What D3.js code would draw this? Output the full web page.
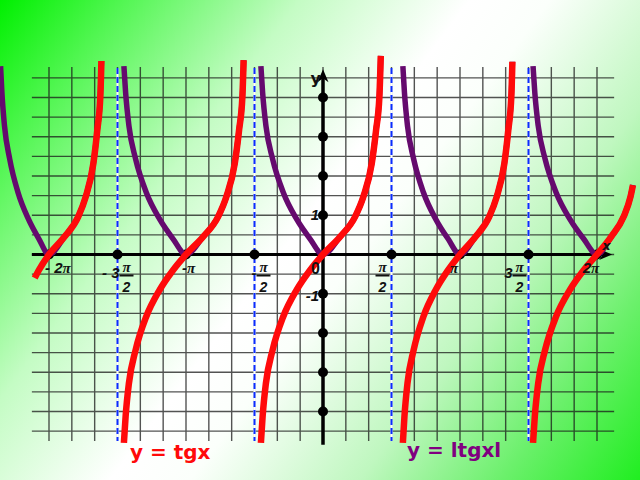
<!DOCTYPE html>
<html>
<head>
<meta charset="utf-8">
<script src="https://cdn.jsdelivr.net/npm/d3@7"></script>
<style>
  html, body { margin: 0; padding: 0; background: #fff; }
  svg { display: block; }
</style>
</head>
<body>
<svg id="chart" width="640" height="480"></svg>
<script>
// ---------- data ----------
const PI = Math.PI;
// x tick positions in multiples of π and their labels
const xTicksPi = [-2, -1.5, -1, -0.5, 0, 0.5, 1, 1.5, 2];
const xTickLabels = ["- 2π", "- 3π/2", "-π", "-π/2", "0", "π/2", "π", "3π/2", "2π"];
// y axis dots and labels
const yDots = [-4, -3, -2, -1, 1, 2, 3, 4];
const yLabelValues = [1, -1];
const yLabelTexts = ["1", "-1"];
// vertical asymptotes (multiples of π)
const asymptotesPi = [-1.5, -0.5, 0.5, 1.5];
// one drawn branch of y = tg x, offsets (radians) from the branch centre and values
const shapeX = [-1.424, -1.385, -1.309, -1.155, -0.911, -0.604, -0.298, 0, 0.39, 0.735, 0.925, 1.118, 1.217, 1.293, 1.325];
const shapeY = [-4.80, -4.13, -3.28, -2.43, -1.58, -0.90, -0.40, 0, 0.45, 0.96, 1.47, 2.32, 3.17, 4.02, 5.06];
// branches visible in the picture
const branchCentresPi = [-2, -1, 0, 1, 2];
const branchSpreadLeft  = [0.78, 1.0, 1.0, 0.92, 1.03];
const branchSpreadRight = [0.91, 1.0, 1.0, 0.91, 0.83];
const redLow  = [-0.6, -4.8, -4.8, -4.8, -4.8];
const redHigh = [4.93, 4.95, 5.06, 4.91, 1.77];
// grid
const gridStepX = PI / 6;
const gridStepY = 0.5;
const legendTexts = ["y = tgx", "y = ltgxl"];

// ---------- scales ----------
const svg = d3.select("#chart");
const x = d3.scaleLinear().domain([-2 * PI, 2 * PI]).range([49, 597]);
const y = d3.scaleLinear().domain([-4, 4]).range([411.5, 97.5]);

// ---------- background ----------
const defs = svg.append("defs");
const grad = defs.append("linearGradient").attr("id", "bg")
  .attr("gradientUnits", "userSpaceOnUse")
  .attr("x1", 0).attr("y1", 0).attr("x2", 640).attr("y2", 480);
[[0, "#00f000"], [0.12, "#50f650"], [0.3, "#c4fcc4"], [0.47, "#ffffff"], [0.55, "#fbfffb"],
 [0.72, "#bff7bf"], [0.86, "#6cf06c"], [1, "#20ee20"]]
  .forEach(([o, c]) => grad.append("stop").attr("offset", o).attr("stop-color", c));
svg.append("rect").attr("width", 640).attr("height", 480).attr("fill", "url(#bg)");

// ---------- grid ----------
const gx0 = -2 * PI - PI / 8, gx1 = 2 * PI + PI / 8;
const gy0 = -4.75, gy1 = 4.78;
const grid = svg.append("g").attr("stroke", "#1a1a1a").attr("stroke-width", 1.4).attr("opacity", 0.75);
const vLines = d3.range(-12, 13).map(k => k * gridStepX);
grid.selectAll(".v").data(vLines).join("line")
  .attr("x1", d => x(d)).attr("x2", d => x(d))
  .attr("y1", y(gy1)).attr("y2", y(gy0));
const hLines = d3.range(-9, 10).map(k => k * gridStepY);
grid.selectAll(".h").data(hLines).join("line")
  .attr("x1", x(gx0)).attr("x2", x(gx1))
  .attr("y1", d => y(d)).attr("y2", d => y(d));

// ---------- asymptotes ----------
const asy = svg.append("g");
asy.selectAll(".aw").data(asymptotesPi).join("line")
  .attr("x1", d => x(d * PI)).attr("x2", d => x(d * PI))
  .attr("y1", y(4.75)).attr("y2", y(-4.75))
  .attr("stroke", "#ffffff").attr("stroke-width", 2.2);
asy.selectAll(".ab").data(asymptotesPi).join("line")
  .attr("x1", d => x(d * PI)).attr("x2", d => x(d * PI))
  .attr("y1", y(4.75)).attr("y2", y(-4.75))
  .attr("stroke", "#0a2cff").attr("stroke-width", 2).attr("stroke-dasharray", "6,3");

// ---------- axes ----------
const axes = svg.append("g");
const xEnd = x(gx1) - 2;
axes.append("line").attr("x1", x(gx0)).attr("x2", xEnd - 6)
  .attr("y1", y(0)).attr("y2", y(0)).attr("stroke", "#000").attr("stroke-width", 3);
axes.append("path")
  .attr("d", `M${xEnd},${y(0)} L${xEnd - 13},${y(0) - 5.5} L${xEnd - 9},${y(0)} L${xEnd - 13},${y(0) + 5.5} Z`)
  .attr("fill", "#000");
const yTop = y(4.72), yBot = y(-4.85);
axes.append("line").attr("x1", x(0)).attr("x2", x(0))
  .attr("y1", yTop + 6).attr("y2", yBot).attr("stroke", "#000").attr("stroke-width", 3.5);
axes.append("path")
  .attr("d", `M${x(0)},${yTop} L${x(0) - 5.5},${yTop + 13} L${x(0)},${yTop + 9} L${x(0) + 5.5},${yTop + 13} Z`)
  .attr("fill", "#000");

// dots
axes.selectAll(".xd").data(xTicksPi.filter(d => d !== 0)).join("circle")
  .attr("cx", d => x(d * PI)).attr("cy", y(0)).attr("r", 5).attr("fill", "#000");
axes.selectAll(".yd").data(yDots).join("circle")
  .attr("cx", x(0)).attr("cy", d => y(d)).attr("r", 5).attr("fill", "#000");

// ---------- curves ----------
function branchPoints(i) {
  const c = branchCentresPi[i] * PI;
  return shapeX.map((dx, j) => ({
    x: c + dx * (dx < 0 ? branchSpreadLeft[i] : branchSpreadRight[i]),
    y: shapeY[j]
  }));
}
function cut(pts, lo, hi) {
  const out = [];
  const inside = p => p.y >= lo && p.y <= hi;
  for (let j = 0; j < pts.length; j++) {
    const p = pts[j];
    if (j > 0) {
      const q = pts[j - 1];
      for (const b of [lo, hi]) {
        if ((q.y - b) * (p.y - b) < 0) {
          const t = (b - q.y) / (p.y - q.y);
          out.push({ x: q.x + t * (p.x - q.x), y: b });
        }
      }
    }
    if (inside(p)) out.push(p);
  }
  return out;
}
const line = d3.line().x(d => x(d.x)).y(d => y(d.y)).curve(d3.curveMonotoneX);

const purple = svg.append("g");
branchCentresPi.forEach((c, i) => {
  const pts = cut(branchPoints(i), -5, redHigh[i]).map(p => ({ x: p.x, y: Math.abs(p.y) }));
  purple.append("path").attr("d", line(pts))
    .attr("fill", "none").attr("stroke", "#650a6e").attr("stroke-width", 5.5);
});
const red = svg.append("g");
branchCentresPi.forEach((c, i) => {
  const pts = cut(branchPoints(i), redLow[i], redHigh[i]);
  red.append("path").attr("d", line(pts))
    .attr("fill", "none").attr("stroke", "#ff0a0a").attr("stroke-width", 6.5);
});

// ---------- labels ----------
const lab = svg.append("g").attr("fill", "#111")
  .attr("font-family", "Liberation Sans, Arial, sans-serif")
  .attr("font-weight", "bold").attr("font-style", "italic").attr("font-size", 15);
const piFont = "Liberation Serif, DejaVu Serif, serif";
xTickLabels.forEach((s, i) => {
  const v = xTicksPi[i];
  const tx = x(v * PI);
  if (s === "0") {
    lab.append("text").attr("x", tx - 3).attr("y", 274).attr("text-anchor", "end")
      .attr("font-style", "normal").attr("font-size", 16).text("0");
    return;
  }
  const m = s.match(/^(-?)\s*(\d*)π(\/2)?$/);
  const sign = m[1], coef = m[2], frac = !!m[3];
  if (frac) {
    const fx = tx + (v < 0 ? 9 : -9);
    lab.append("text").attr("x", fx).attr("y", 272).attr("text-anchor", "middle")
      .attr("font-family", piFont).attr("font-size", 15).text("π");
    lab.append("line").attr("x1", fx - 7).attr("x2", fx + 7).attr("y1", 275.5).attr("y2", 275.5)
      .attr("stroke", "#111").attr("stroke-width", 2);
    lab.append("text").attr("x", fx).attr("y", 292).attr("text-anchor", "middle")
      .attr("font-size", 14).text("2");
    const pre = (sign ? "- " : "") + coef;
    if (pre.trim()) {
      lab.append("text").attr("x", fx - 7).attr("y", 278).attr("text-anchor", "end")
        .attr("font-size", 15).text(pre.trim() === "-" ? "-" : pre);
    }
  } else {
    const t = lab.append("text").attr("y", 273);
    if (v < 0) t.attr("x", tx - 4).attr("text-anchor", "start");
    else t.attr("x", tx - 6).attr("text-anchor", "middle");
    t.append("tspan").text((sign ? (coef ? "- " : "-") : "") + coef);
    t.append("tspan").attr("font-family", piFont).text("π");
  }
});
yLabelValues.forEach((v, i) => {
  lab.append("text").attr("x", x(0) - 4).attr("y", y(v) + (v > 0 ? 5 : 7))
    .attr("text-anchor", "end").attr("font-size", 15).text(yLabelTexts[i]);
});
// axis names
svg.append("text").attr("x", x(0) - 2).attr("y", y(4.35)).attr("text-anchor", "end")
  .attr("font-family", "DejaVu Sans, sans-serif").attr("font-weight", "bold").attr("font-size", 16)
  .attr("fill", "#111").text("y");
svg.append("text").attr("x", x(gx1) - 12).attr("y", y(0) - 5)
  .attr("font-family", "DejaVu Sans, sans-serif").attr("font-weight", "bold").attr("font-style", "italic")
  .attr("font-size", 13).attr("fill", "#111").text("x");

// ---------- legend ----------
svg.append("text").attr("x", 130).attr("y", 459)
  .attr("font-family", "DejaVu Sans, sans-serif").attr("font-weight", "bold").attr("font-size", 20)
  .attr("fill", "#ff0a0a").text(legendTexts[0]);
svg.append("text").attr("x", 407).attr("y", 457)
  .attr("font-family", "DejaVu Sans, sans-serif").attr("font-weight", "bold").attr("font-size", 20)
  .attr("fill", "#800080").text(legendTexts[1]);
</script>
</body>
</html>
